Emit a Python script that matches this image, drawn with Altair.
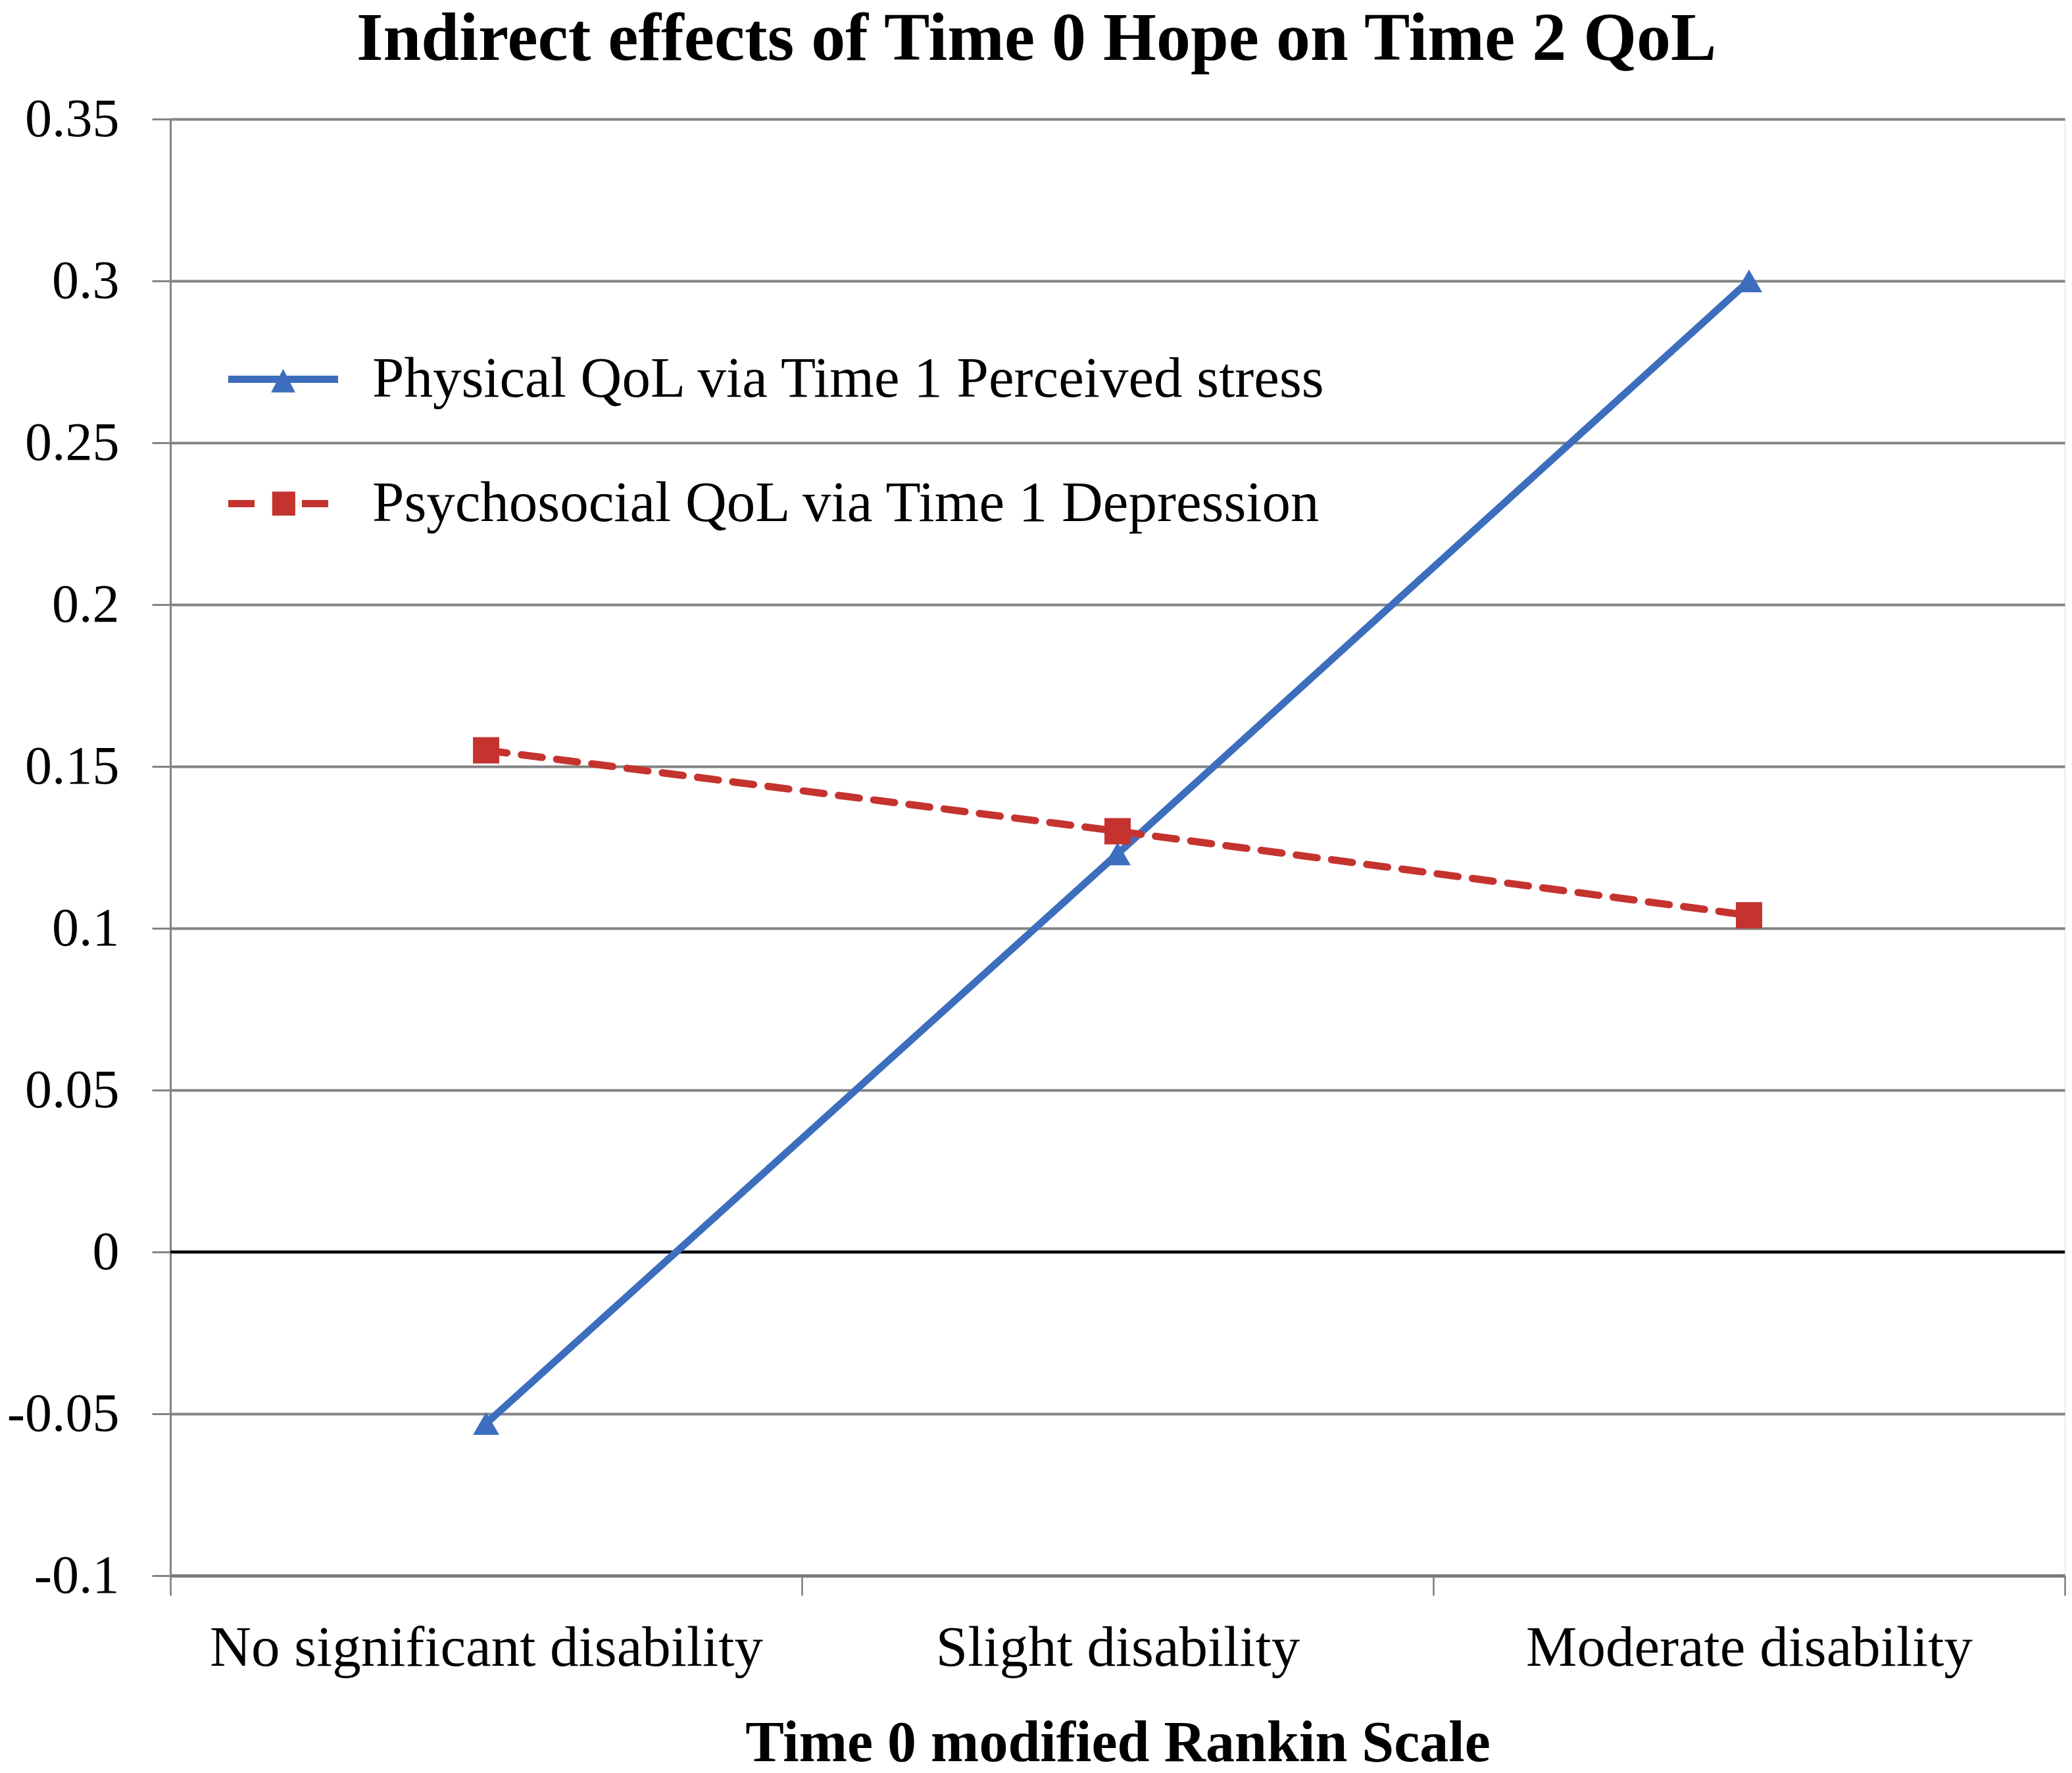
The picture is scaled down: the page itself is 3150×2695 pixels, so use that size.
import altair as alt
import pandas as pd

# ---- data ----
categories = ["No significant disability", "Slight disability", "Moderate disability"]
series_names = ["Physical QoL via Time 1 Perceived stress",
                "Psychosocial QoL via Time 1 Depression"]
physical_values = [-0.053, 0.123, 0.300]
psychosocial_values = [0.155, 0.130, 0.104]
y_ticks = [-0.1, -0.05, 0, 0.05, 0.1, 0.15, 0.2, 0.25, 0.3, 0.35]
zero_line = [0]

title_text = "Indirect effects of Time 0 Hope on Time 2 QoL"
x_title = "Time 0 modified Rankin Scale"

# ---- build table ----
rows = []
for name, vals in zip(series_names, [physical_values, psychosocial_values]):
    for i, (cat, v) in enumerate(zip(categories, vals)):
        rows.append({"series": name, "category": cat, "pos": i + 0.5, "value": v})
df = pd.DataFrame(rows)
zero_df = pd.DataFrame({"y": zero_line})

n = len(categories)
x_tick_values = [k / 2 for k in range(2 * n + 1)]
cat_js = "[" + ",".join("'" + c + "'" for c in categories) + "]"
x_label_expr = f"datum.value % 1 == 0.5 ? {cat_js}[floor(datum.value)] : ''"

FONT = "Liberation Serif"
BLUE = "#3C6EBD"
RED = "#C5332F"
GRID = "#838383"

colors = [BLUE, RED]
legend_paths = [
    "M-1,-0.065 L1,-0.065 L1,0.065 L-1,0.065 Z M-0.22,0.24 L0,-0.19 L0.22,0.24 Z",
    "M-1,-0.065 L-0.52,-0.065 L-0.52,0.065 L-1,0.065 Z "
    "M-0.2,-0.22 L0.22,-0.22 L0.22,0.22 L-0.2,0.22 Z "
    "M0.34,-0.065 L0.82,-0.065 L0.82,0.065 L0.34,0.065 Z",
]

x_enc = alt.X(
    "pos:Q",
    scale=alt.Scale(domain=[0, n], nice=False, zero=False),
    axis=alt.Axis(
        values=x_tick_values,
        labelExpr=x_label_expr,
        grid=False,
        domainColor="#7A7A7A",
        domainWidth=5,
        tickColor="#7A7A7A",
        tickWidth=2.5,
        tickSize=30,
        tickOpacity={"condition": {"test": "datum.value % 1 != 0", "value": 0}, "value": 1},
        labelFont=FONT,
        labelFontSize=87,
        labelColor="black",
        labelPadding=37,
        labelOverlap=False,
        labelFlush=False,
        labelBound=False,
        labelLimit=3000,
        title=x_title,
        titleFont=FONT,
        titleFontSize=88,
        titleFontWeight="bold",
        titleColor="black",
        titlePadding=58,
    ),
)

y_enc = alt.Y(
    "value:Q",
    scale=alt.Scale(domain=[-0.1, 0.35], nice=False, zero=False),
    axis=alt.Axis(
        values=y_ticks,
        labelExpr="datum.value < 0 ? '-' + format(-datum.value, '~g') : format(datum.value, '~g')",
        grid=True,
        gridColor=GRID,
        gridWidth=4,
        domainColor=GRID,
        domainWidth=3,
        tickColor=GRID,
        tickWidth=3,
        tickSize=28,
        labelFont=FONT,
        labelFontSize=82,
        labelColor="black",
        labelPadding=50,
        title=None,
    ),
)

color_scale = alt.Scale(domain=series_names, range=colors)

lines = alt.Chart(df).mark_line(strokeWidth=11, strokeCap="round").encode(
    x=x_enc,
    y=y_enc,
    color=alt.Color("series:N", scale=color_scale, legend=None),
    strokeDash=alt.StrokeDash("series:N",
                              scale=alt.Scale(domain=series_names, range=[[1, 0], [32, 22]]),
                              legend=None),
    detail="series:N",
)

points = alt.Chart(df).mark_point(filled=True, size=1600, opacity=1).encode(
    x="pos:Q",
    y="value:Q",
    color=alt.Color("series:N", scale=color_scale, legend=None),
    shape=alt.Shape("series:N",
                    scale=alt.Scale(domain=series_names, range=["triangle-up", "square"]),
                    legend=None),
)

zero_rule = alt.Chart(zero_df).mark_rule(color="black", strokeWidth=4.5).encode(y="y:Q")

legend_props = dict(
    title=None,
    orient="none",
    legendX=88,
    legendY=312,
    padding=0,
    symbolSize=27889,
    symbolStrokeWidth=0,
    labelFont=FONT,
    labelFontSize=87,
    labelColor="black",
    labelOffset=52,
    rowPadding=62,
    labelLimit=3000,
)

legend_layer = alt.Chart(df).transform_filter("false").mark_point(filled=True, opacity=1).encode(
    x="pos:Q",
    y="value:Q",
    color=alt.Color("series:N", scale=alt.Scale(domain=series_names, range=colors),
                    legend=alt.Legend(**legend_props)),
    shape=alt.Shape("series:N", scale=alt.Scale(domain=series_names, range=legend_paths),
                    legend=alt.Legend(**legend_props)),
)

chart = alt.layer(zero_rule, lines, points, legend_layer).resolve_scale(
    color="independent", shape="independent"
).properties(
    width=2880,
    height=2214,
    padding={"left": 2, "top": 0, "right": 0, "bottom": 0},
    title=alt.Title(
        title_text,
        font=FONT,
        fontSize=104,
        fontWeight="bold",
        color="black",
        anchor="middle",
        frame="bounds",
        offset=17,
        dy=-10,
    ),
).configure_view(strokeWidth=0).configure(background="white")

chart.save("out.html", embed_options={"renderer": "svg", "actions": False})
